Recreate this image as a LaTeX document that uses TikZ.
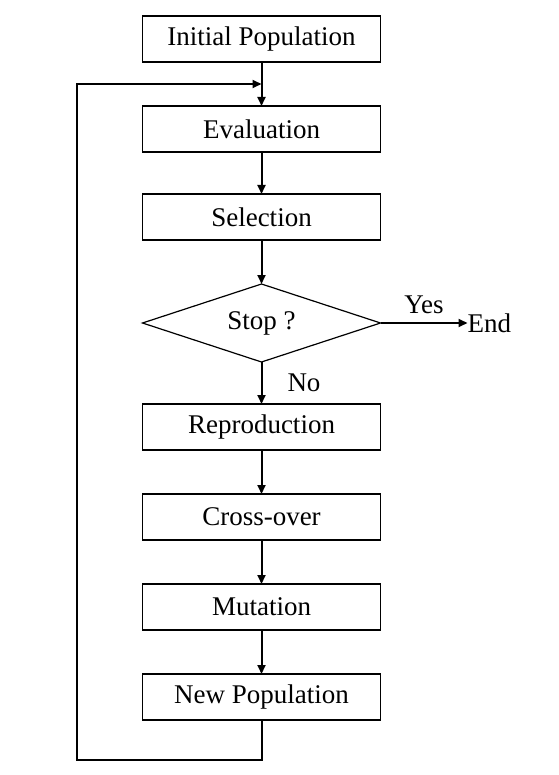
\documentclass[tikz,border=0pt]{standalone}
\usepackage{fontspec}
\setmainfont{Liberation Serif}
\usetikzlibrary{
	shapes.geometric,
	arrows.meta,
	positioning,
	calc
}

\begin{document}
\begin{tikzpicture}[
				x=1pt, y=1pt,
				stage/.style={
					rectangle, draw, line width=1.2pt,
					minimum width=238pt, minimum height=46pt,
					inner sep=0pt, outer sep=0pt, align=center,
					font=\fontsize{27}{30}\selectfont
				},
				decision/.style={
					diamond, draw, line width=1.2pt, aspect=3.05,
					minimum width=238pt, minimum height=78pt,
					inner sep=0pt, outer sep=0pt, font=\fontsize{27}{30}\selectfont
				},
				label/.style={font=\fontsize{27}{30}\selectfont, inner sep=0pt},
				arrow/.style={-{Triangle[length=9pt,width=8pt]}, line width=2pt, black}
				]
				\useasboundingbox (0,0) rectangle (558,-775);
				
				% Initial population
				\node[stage] (init) at (261.5,-39) {Initial Population};
				
				% evaluation
				\node[stage, below=44pt of init] (eval) {Evaluation};
				
				% selection
				\node[stage, below=42pt of eval] (select) {Selection};
				
				% stop test
				\node[decision, below=44pt of select] (stop) {Stop ?};
				
				% end
				\node[label, right=87pt of stop] (finish) {End};
				
				% reproduction
				\node[stage, below=42pt of stop] (repro) {Reproduction};
				
				% cross-over
				\node[stage, below=44pt of repro] (cross) {Cross-over};
				
				% mutation
				\node[stage, below=44pt of cross] (mutate) {Mutation};
				
				% new population
				\node[stage, below=44pt of mutate] (newpop) {New Population};
				
				% loop points
				\coordinate (merge) at ($(init.south)!0.5!(eval.north)$);
				\coordinate (loopbottom) at (77,-760);
				
				% arrows between nodes
				\draw[arrow] (init)   -- (eval);
				\draw[arrow] (eval)   -- (select);
				\draw[arrow] (select) -- (stop);
				\draw[arrow] (stop)   -- node[label, right=25pt] (no) {No} (repro);
				\draw[arrow] (stop.east) -- node[label, above=8pt] (yes) {Yes} (finish);
				\draw[arrow] (repro)  -- (cross);
				\draw[arrow] (cross)  -- (mutate);
				\draw[arrow] (mutate) -- (newpop);
				
				% feedback loop
				\draw[arrow] (newpop.south) |- (loopbottom) |- (merge);
			\end{tikzpicture}
\end{document}
